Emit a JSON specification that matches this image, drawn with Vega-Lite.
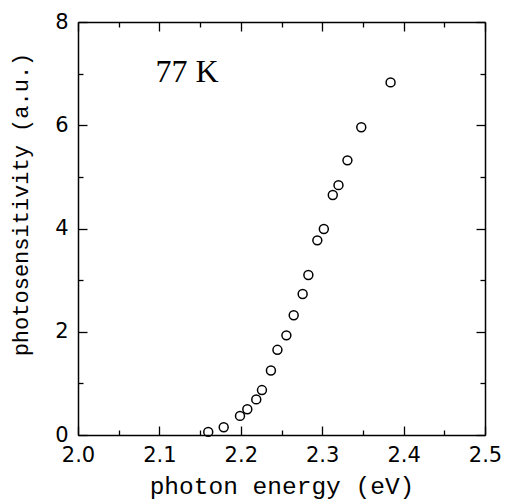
{
  "$schema": "https://vega.github.io/schema/vega-lite/v6.json",
  "autosize": "none",
  "width": 407,
  "height": 413,
  "padding": {"left": 78, "top": 22, "right": 22, "bottom": 65},
  "background": "white",
  "config": {
    "view": {"stroke": null},
    "axis": {
      "domainColor": "black",
      "domainWidth": 1.5,
      "tickColor": "black",
      "tickWidth": 1.3,
      "grid": false,
      "labelFont": "DejaVu Sans",
      "labelFontSize": 21,
      "labelColor": "black",
      "titleFont": "Liberation Mono",
      "titleFontSize": 23,
      "titleFontWeight": "normal",
      "titleColor": "black"
    }
  },
  "layer": [
    {
      "data": {
        "values": [
          {"energy": 2.160, "ps": 0.06},
          {"energy": 2.179, "ps": 0.15},
          {"energy": 2.199, "ps": 0.37},
          {"energy": 2.208, "ps": 0.50},
          {"energy": 2.219, "ps": 0.69},
          {"energy": 2.226, "ps": 0.87},
          {"energy": 2.237, "ps": 1.25},
          {"energy": 2.245, "ps": 1.65},
          {"energy": 2.256, "ps": 1.93},
          {"energy": 2.265, "ps": 2.32},
          {"energy": 2.276, "ps": 2.73},
          {"energy": 2.283, "ps": 3.10},
          {"energy": 2.294, "ps": 3.77},
          {"energy": 2.302, "ps": 3.99},
          {"energy": 2.313, "ps": 4.65},
          {"energy": 2.320, "ps": 4.84},
          {"energy": 2.331, "ps": 5.32},
          {"energy": 2.348, "ps": 5.96},
          {"energy": 2.384, "ps": 6.83}
        ]
      },
      "mark": {"type": "point", "shape": "circle", "filled": false, "color": "black", "size": 80, "strokeWidth": 1.5, "opacity": 1},
      "encoding": {
        "x": {
          "field": "energy", "type": "quantitative",
          "scale": {"domain": [2.0, 2.5], "nice": false, "zero": false},
          "axis": {
            "orient": "bottom",
            "title": "photon energy (eV)",
            "titleFontSize": 24.5,
            "titlePadding": 9,
            "labelPadding": 18,
            "values": [2.0, 2.05, 2.1, 2.15, 2.2, 2.25, 2.3, 2.35, 2.4, 2.45, 2.5],
            "labelExpr": "abs(datum.value*10 - round(datum.value*10)) < 0.001 ? format(datum.value, '.1f') : ''",
            "tickSize": {"condition": {"test": "abs(datum.value*10 - round(datum.value*10)) < 0.001", "value": -9}, "value": -5},
            "labelFlush": false
          }
        },
        "y": {
          "field": "ps", "type": "quantitative",
          "scale": {"domain": [0, 8], "nice": false},
          "axis": {
            "orient": "left",
            "title": "photosensitivity (a.u.)",
            "titleFontSize": 22,
            "titlePadding": 22,
            "titleY": 182,
            "labelPadding": 19,
            "values": [0, 1, 2, 3, 4, 5, 6, 7, 8],
            "labelExpr": "datum.value % 2 == 0 ? format(datum.value, 'd') : ''",
            "tickSize": {"condition": {"test": "datum.value % 2 == 0", "value": -9}, "value": -5},
            "labelFlush": false
          }
        }
      }
    },
    {
      "data": {"values": [{"label": "77 K", "energy": 2.134, "ps": 7.04}]},
      "mark": {"type": "text", "font": "Liberation Serif", "fontSize": 32, "color": "black", "align": "center", "baseline": "middle"},
      "encoding": {
        "text": {"field": "label"},
        "x": {
          "field": "energy", "type": "quantitative",
          "axis": {
            "orient": "top",
            "title": null,
            "labels": false,
            "values": [2.0, 2.05, 2.1, 2.15, 2.2, 2.25, 2.3, 2.35, 2.4, 2.45, 2.5],
            "tickSize": {"condition": {"test": "abs(datum.value*10 - round(datum.value*10)) < 0.001", "value": -9}, "value": -5}
          }
        },
        "y": {
          "field": "ps", "type": "quantitative",
          "axis": {
            "orient": "right",
            "title": null,
            "labels": false,
            "values": [0, 1, 2, 3, 4, 5, 6, 7, 8],
            "tickSize": {"condition": {"test": "datum.value % 2 == 0", "value": -9}, "value": -5}
          }
        }
      }
    }
  ],
  "resolve": {"axis": {"x": "independent", "y": "independent"}}
}
